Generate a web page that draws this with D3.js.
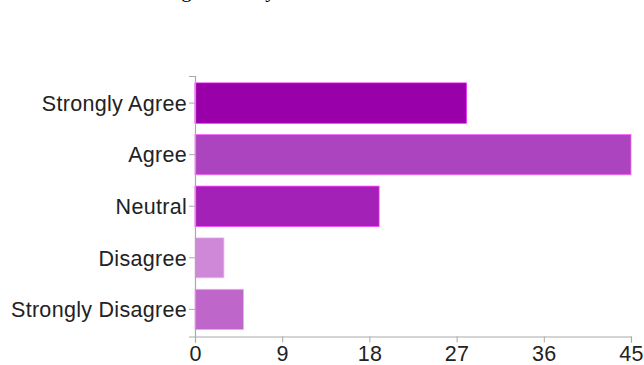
<!DOCTYPE html>
<html>
<head>
<meta charset="utf-8">
<script src="https://cdn.jsdelivr.net/npm/d3@7"></script>
<style>
  body { margin: 0; background: #fff; }
  svg { display: block; }
</style>
</head>
<body>
<svg id="chart"></svg>
<script>
// data
var categories = ["Strongly Agree", "Agree", "Neutral", "Disagree", "Strongly Disagree"];
var counts = [28, 45, 19, 3, 5];
var barColors = ["#9900a9", "#ad44bf", "#a321b7", "#cf88d8", "#bf66cb"];
var xTicks = [0, 9, 18, 27, 36, 45];
var titleText = "customers are glad to buy their services";

var width = 644, height = 365;
var svg = d3.select("#chart")
  .attr("width", width)
  .attr("height", height);

// question text, mostly cut off at the top edge like in the reference
svg.append("text")
  .attr("x", 60)
  .attr("y", -3)
  .attr("font-family", "Liberation Serif, serif")
  .attr("font-size", 21)
  .attr("fill", "#000")
  .text(titleText);

var x = d3.scaleLinear().domain([0, 45]).range([195, 631]);
var y = d3.scaleBand().domain(categories).range([76, 336.5])
  .paddingInner(0.22).paddingOuter(0.135);

var data = categories.map(function(c, i) { return { name: c, value: counts[i], color: barColors[i] }; });

svg.selectAll("rect.bar")
  .data(data)
  .enter()
  .append("rect")
  .attr("class", "bar")
  .attr("x", x(0))
  .attr("y", function(d) { return y(d.name); })
  .attr("width", function(d) { return x(d.value) - x(0); })
  .attr("height", y.bandwidth())
  .attr("fill", function(d) { return d.color; })
  .attr("stroke", function(d) { return d3.color(d.color).brighter(1.2); })
  .attr("stroke-width", 0.8);

var xAxis = svg.append("g")
  .attr("transform", "translate(0,336.5)")
  .call(d3.axisBottom(x).tickValues(xTicks).tickSize(6).tickPadding(3).tickFormat(d3.format("d")));

var yAxis = svg.append("g")
  .attr("transform", "translate(195,0)")
  .call(d3.axisLeft(y).tickSize(6).tickPadding(2));

[xAxis, yAxis].forEach(function(g) {
  g.select(".domain").attr("stroke", "#aaa").attr("stroke-width", 1.2);
  g.selectAll(".tick line").attr("stroke", "#aaa");
  g.selectAll(".tick text")
    .attr("fill", "#222")
    .attr("font-family", "Liberation Sans, Arial, sans-serif")
    .attr("font-size", 21.5)
    .attr("letter-spacing", "0.3px");
});
yAxis.selectAll(".tick text").attr("dy", "0.36em");
xAxis.selectAll(".tick text").attr("dy", "0.72em");
</script>
</body>
</html>
